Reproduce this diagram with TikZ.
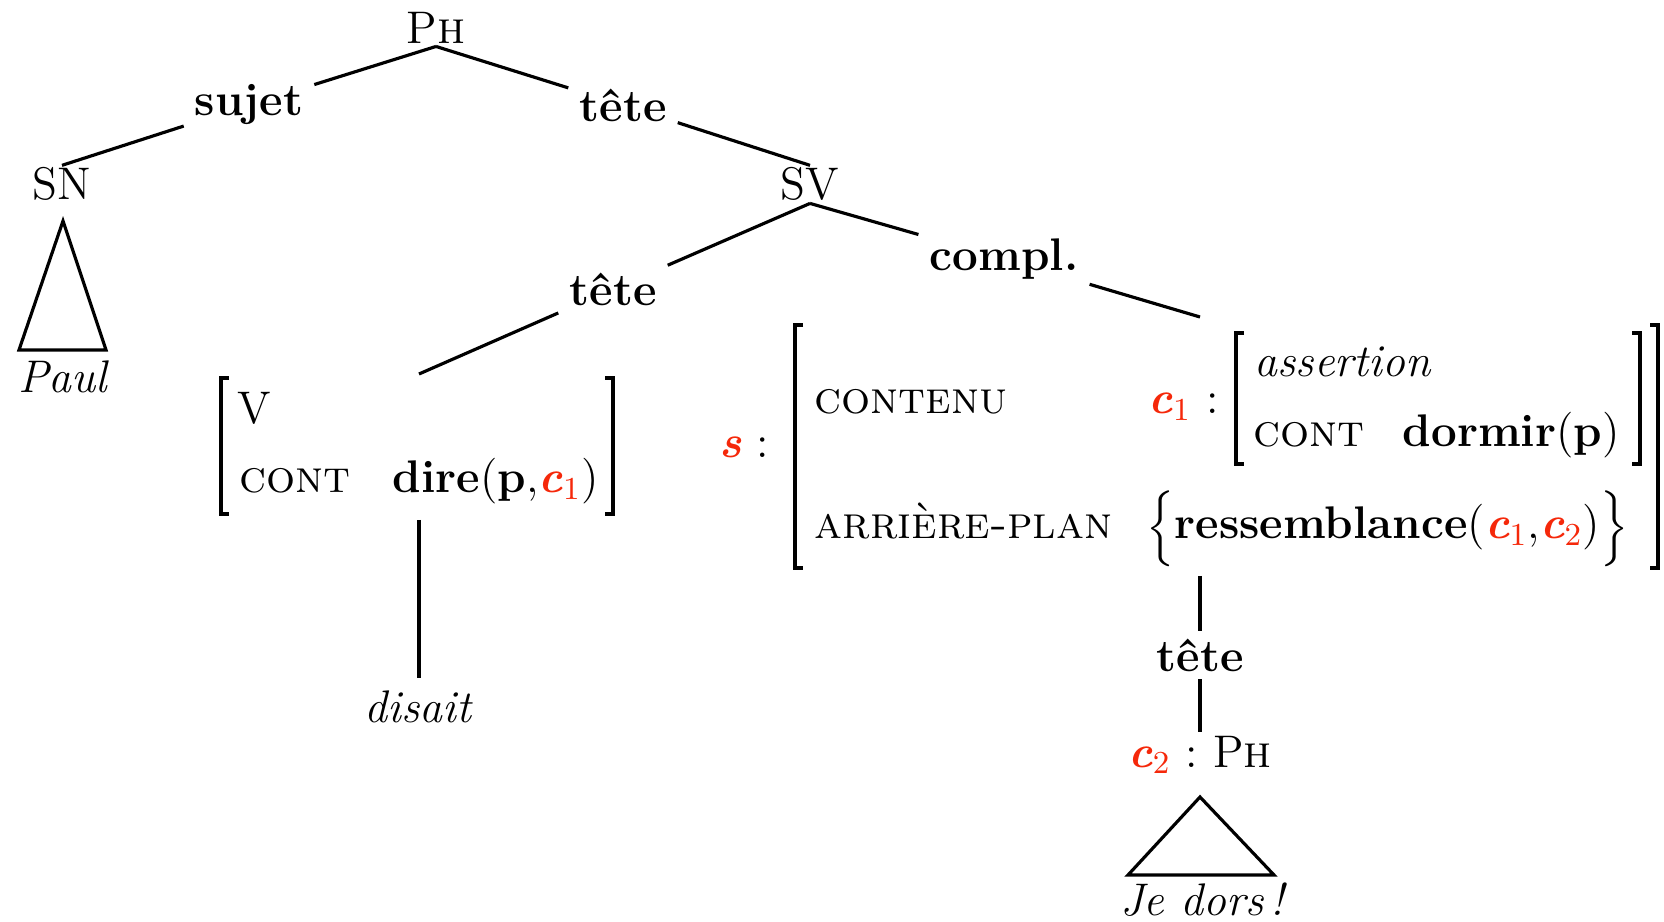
\documentclass[tikz,border=0pt]{standalone}
\usepackage{amsmath}
\usepackage{xcolor}
\usepackage{tikz}
\definecolor{cvar}{RGB}{245,40,10}
\newcommand{\ctx}[1]{\textcolor{cvar}{\textbf{\textit{c}}\textsubscript{#1}}}
\newcommand{\svar}{\textcolor{cvar}{\textbf{\textit{s}}}}

\begin{document}
\begin{tikzpicture}[
            x=0.01cm, y=-0.01cm,
            every node/.style={font=\fontsize{13}{16}\selectfont},
            cat/.style={inner xsep=0pt, inner ysep=0.5pt},
            lab/.style={font=\fontsize{13}{16}\selectfont\bfseries, inner xsep=3pt, inner ysep=2pt},
            txt/.style={anchor=base west, inner sep=0pt},
            tree/.style={line width=0.9pt},
            brk/.style={line width=0.9pt}
        ]
        \useasboundingbox (0,0) rectangle (1664,922);

        % tree
        \node[cat, anchor=base] (ph) at (436,44) {P\textsc{h}};
        \node[cat, anchor=base] (sn) at (62,200) {SN};
        \node[cat, anchor=base] (sv) at (810,200) {SV};
        \node[lab] (sujet) at (249,105) {sujet};
        \node[lab] (tete1) at (623,105) {tête};
        \node[lab] (tete2) at (613,289) {tête};
        \node[lab] (compl) at (1004,259) {compl.};
        \coordinate (vtop) at (419,374);
        \coordinate (stop) at (1200,317);
        \draw[tree] (ph.south) -- (sujet) -- (sn.north);
        \draw[tree] (ph.south) -- (tete1) -- (sv.north);
        \draw[tree] (sv.south) -- (tete2) -- (vtop);
        \draw[tree] (sv.south) -- (compl) -- (stop);

        \draw[tree] (63,221) -- (19,350) -- (106,350) -- cycle;
        \node[anchor=base] (paul) at (64,393) {\textit{Paul}};

        % verbe
        \node[txt] (v) at (237,424) {V};
        \node[txt] (cont1) at (239,493) {\textsc{cont}};
        \node[txt] (dire) at (392,493) {\textbf{dire}(\textbf{p},\ctx{1})};
        \draw[brk] (229,378) -- (221,378) -- (221,514) -- (229,514);
        \draw[brk] (605,378) -- (613,378) -- (613,514) -- (605,514);
        \coordinate (vbot) at (419,520);
        \node[anchor=base] (disait) at (419,722) {\textit{disait}};
        \draw[tree] (vbot) -- (disait.north);

        % complement
        \node[anchor=base east, inner sep=0pt] (s) at (770,458) {\svar\ :};
        \draw[brk] (803,325) -- (795,325) -- (795,568) -- (803,568);
        \draw[brk] (1650,325) -- (1658,325) -- (1658,568) -- (1650,568);
        \node[txt] (contenu) at (814,414) {\textsc{contenu}};
        \node[txt] (c1) at (1148,414) {\ctx{1}\ :};
        \draw[brk] (1244,333) -- (1236,333) -- (1236,464) -- (1244,464);
        \draw[brk] (1632,333) -- (1640,333) -- (1640,464) -- (1632,464);
        \node[txt] (assert) at (1254,377) {\textit{assertion}};
        \node[txt] (cont2) at (1253,447) {\textsc{cont}};
        \node[txt] (dormir) at (1402,447) {\textbf{dormir}(\textbf{p})};
        \node[txt] (arriere) at (814,539) {\textsc{arrière-plan}};
        \node[txt] (ress) at (1146,539) {$\Bigl\{$\textbf{ressemblance}(\ctx{1},\ctx{2})$\Bigr\}$};

        \coordinate (rbot) at (1200,576);
        \node[lab] (tete3) at (1200,655) {tête};
        \node[anchor=base, inner sep=1pt] (c2ph) at (1200,767) {\ctx{2}\ :\ P\textsc{h}};
        \draw[tree] (rbot) -- (tete3) -- (c2ph.north);

        \draw[tree] (1200,797) -- (1128,875) -- (1274,875) -- cycle;
        \node[anchor=base] (jedors) at (1204,915) {\textit{Je dors\,!}};
\end{tikzpicture}
\end{document}
